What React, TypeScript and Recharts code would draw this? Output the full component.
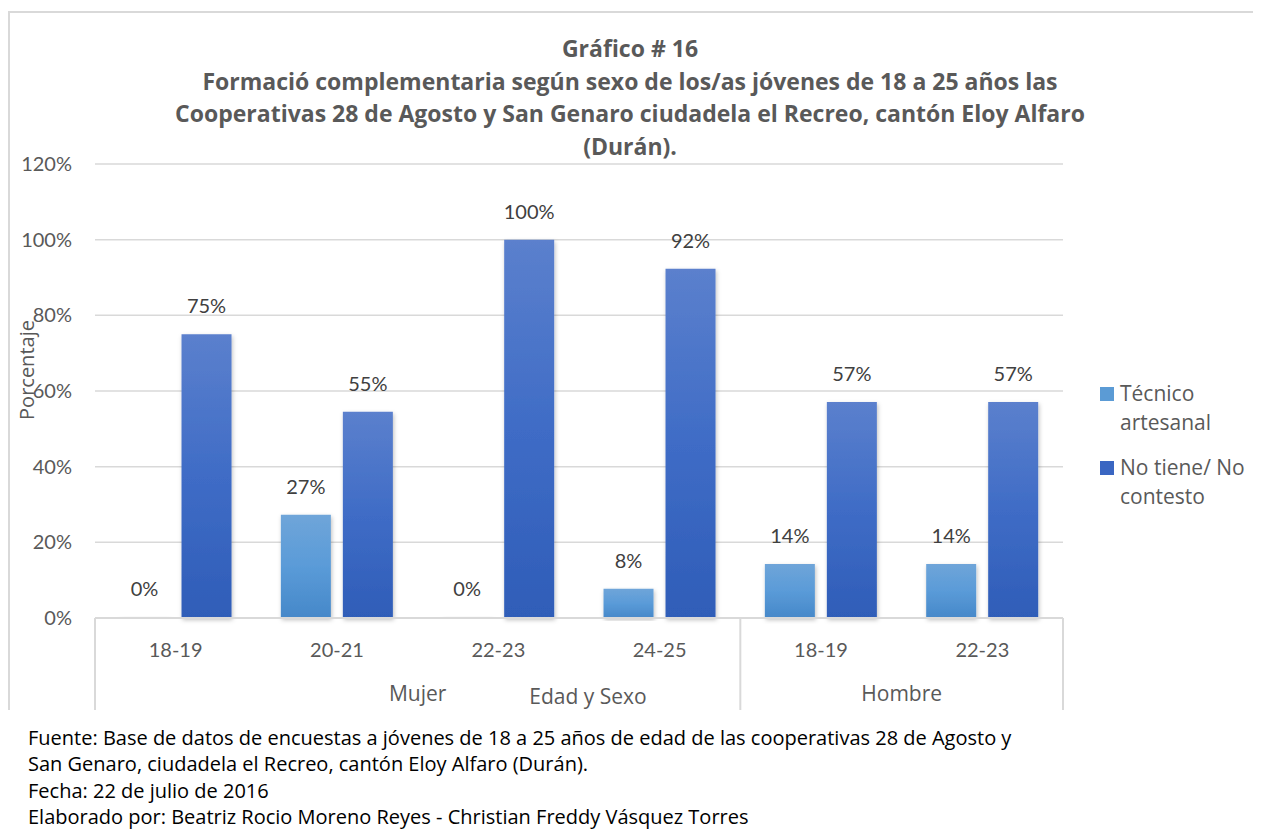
import React from "react";
import { BarChart, Bar, XAxis, YAxis, CartesianGrid, LabelList } from "recharts";

const ages = ["18-19", "20-21", "22-23", "24-25", "18-19", "22-23"];
const groups = ["Mujer", "Mujer", "Mujer", "Mujer", "Hombre", "Hombre"];
const tecnico = [0, 27.3, 0, 7.7, 14.3, 14.3];
const noTiene = [75, 54.5, 100, 92.3, 57.1, 57.1];
const yTicks = [0, 20, 40, 60, 80, 100, 120];

const titleLines = [
  "Gráfico # 16",
  "Formació complementaria según sexo de los/as jóvenes de 18 a 25 años las",
  "Cooperativas 28 de Agosto y San Genaro ciudadela el Recreo, cantón Eloy Alfaro",
  "(Durán).",
];
const footerLines = [
  "Fuente: Base de datos de encuestas a jóvenes de 18 a 25 años de edad de las cooperativas 28 de Agosto y",
  "San Genaro, ciudadela el Recreo, cantón Eloy Alfaro (Durán).",
  "Fecha: 22 de julio de 2016",
  "Elaborado por: Beatriz Rocio Moreno Reyes - Christian Freddy Vásquez Torres",
];

const series = [
  { key: "tecnico", name: "Técnico artesanal", lines: ["Técnico", "artesanal"], fill: "url(#gradTec)", swatch: "#5b9bd5" },
  { key: "noTiene", name: "No tiene/ No contesto", lines: ["No tiene/ No", "contesto"], fill: "url(#gradNo)", swatch: "#3a66c2" },
];

const data = ages.map((age, i) => ({
  id: `${groups[i]}-${age}`,
  age,
  group: groups[i],
  tecnico: tecnico[i],
  noTiene: noTiene[i],
}));

const NUM_FONT = "Lato, sans-serif";
const WORD_FONT = "'Open Sans', sans-serif";
const CHART_W = 1253;
const CHART_H = 702;
const Y_AXIS_W = 87;
const MARGIN = { top: 156, right: 198, left: 0, bottom: 0 };
const PLOT_W = CHART_W - MARGIN.left - MARGIN.right - Y_AXIS_W;
const AXIS_H = 92;

const AxisTick = (props: any) => {
  const { x, y, index } = props;
  const band = PLOT_W / data.length;
  const row = data[index];
  const isGroupStart = index === 0 || groups[index - 1] !== row.group;
  const isGroupEnd = index === data.length - 1 || groups[index + 1] !== row.group;
  const span = groups.filter((g) => g === row.group).length;
  return (
    <g>
      <text x={x} y={y + 39} textAnchor="middle" fill="#595959" fontSize={20} fontFamily={NUM_FONT}>
        {row.age}
      </text>
      {index === 0 && (
        <line x1={x - band / 2} x2={x - band / 2} y1={y} y2={y + AXIS_H} stroke="#d9d9d9" strokeWidth={2} />
      )}
      {isGroupEnd && (
        <line x1={x + band / 2} x2={x + band / 2} y1={y} y2={y + AXIS_H} stroke="#d9d9d9" strokeWidth={2} />
      )}
      {isGroupStart && (
        <text
          x={x + ((span - 1) / 2) * band}
          y={y + 83}
          textAnchor="middle"
          fill="#595959"
          fontSize={21}
          fontFamily={WORD_FONT}
        >
          {row.group}
        </text>
      )}
    </g>
  );
};

export default function App() {
  return (
    <div style={{ position: "relative", width: CHART_W, height: 827, fontFamily: WORD_FONT, overflow: "hidden" }}>
      <div
        style={{
          position: "absolute",
          left: 0,
          top: 3,
          width: 1280,
          height: CHART_H - 3,
          borderTop: "2px solid #d9d9d9",
          borderLeft: "2px solid #d9d9d9",
          boxSizing: "border-box",
        }}
      />
      <div
        style={{
          position: "absolute",
          left: 0,
          top: 24,
          width: 1244,
          textAlign: "center",
          fontWeight: 700,
          fontSize: 23,
          lineHeight: "32.7px",
          color: "#595959",
        }}
      >
        {titleLines.map((t, i) => (
          <div key={i}>{t}</div>
        ))}
      </div>
      <div style={{ position: "absolute", left: 0, top: 0 }}>
        <BarChart
          width={CHART_W}
          height={CHART_H}
          data={data}
          margin={MARGIN}
          barCategoryGap="15.2%"
          barGap={12}
        >
          <defs>
            <linearGradient id="gradTec" x1="0" y1="0" x2="0" y2="1">
              <stop offset="0%" stopColor="#6fa5d9" />
              <stop offset="50%" stopColor="#5a9bd8" />
              <stop offset="100%" stopColor="#4688c9" />
            </linearGradient>
            <linearGradient id="gradNo" x1="0" y1="0" x2="0" y2="1">
              <stop offset="0%" stopColor="#5b80cd" />
              <stop offset="50%" stopColor="#3f6cc6" />
              <stop offset="100%" stopColor="#2f5db8" />
            </linearGradient>
            <filter id="barShadow" x="-20%" y="-5%" width="140%" height="115%">
              <feDropShadow dx="1" dy="2" stdDeviation="2" floodColor="#000" floodOpacity="0.25" />
            </filter>
          </defs>
          <CartesianGrid vertical={false} stroke="#d9d9d9" strokeWidth={1.5} />
          <XAxis
            dataKey="id"
            height={AXIS_H}
            tick={<AxisTick />}
            tickLine={false}
            tickSize={0}
            tickMargin={0}
            interval={0}
            axisLine={{ stroke: "#d9d9d9", strokeWidth: 2 }}
            label={{
              value: "Edad y Sexo",
              position: "insideBottom",
              offset: 6,
              dx: 9,
              fill: "#595959",
              fontSize: 21,
              fontFamily: WORD_FONT,
            }}
          />
          <YAxis
            width={Y_AXIS_W}
            domain={[0, 120]}
            ticks={yTicks}
            tickFormatter={(v) => `${v}%`}
            axisLine={false}
            tickLine={false}
            tickSize={0}
            tickMargin={23}
            tick={{ fill: "#595959", fontSize: 20, fontFamily: NUM_FONT }}
            label={{
              value: "Porcentaje",
              angle: -90,
              position: "center",
              dx: -24.5,
              dy: -21,
              fill: "#595959",
              fontSize: 20,
              fontFamily: WORD_FONT,
            }}
          />
          {series.map((s) => (
            <Bar
              key={s.key}
              dataKey={s.key}
              name={s.name}
              fill={s.fill}
              filter="url(#barShadow)"
              minPointSize={(v: any) => (Number(v) === 0 ? 1 : 0)}
              isAnimationActive={false}
            >
              <LabelList
                dataKey={s.key}
                position="top"
                offset={21}
                formatter={(v: any) => `${Math.round(Number(v))}%`}
                fill="#404040"
                fontSize={20}
                fontFamily={NUM_FONT}
              />
            </Bar>
          ))}
        </BarChart>
      </div>
      <div style={{ position: "absolute", left: 1092, top: 371, fontSize: 21, lineHeight: "29px", color: "#595959" }}>
        {series.map((s, i) => (
          <div key={s.key} style={{ display: "flex", marginBottom: i === 0 ? 16 : 0 }}>
            <div style={{ width: 14, height: 14, background: s.swatch, marginTop: 8, marginRight: 6, flexShrink: 0 }} />
            <div>
              {s.lines.map((l, j) => (
                <div key={j}>{l}</div>
              ))}
            </div>
          </div>
        ))}
      </div>
      <div style={{ position: "absolute", left: 20, top: 717, fontSize: 20, lineHeight: "26.3px", color: "#000" }}>
        {footerLines.map((t, i) => (
          <div key={i}>{t}</div>
        ))}
      </div>
    </div>
  );
}
